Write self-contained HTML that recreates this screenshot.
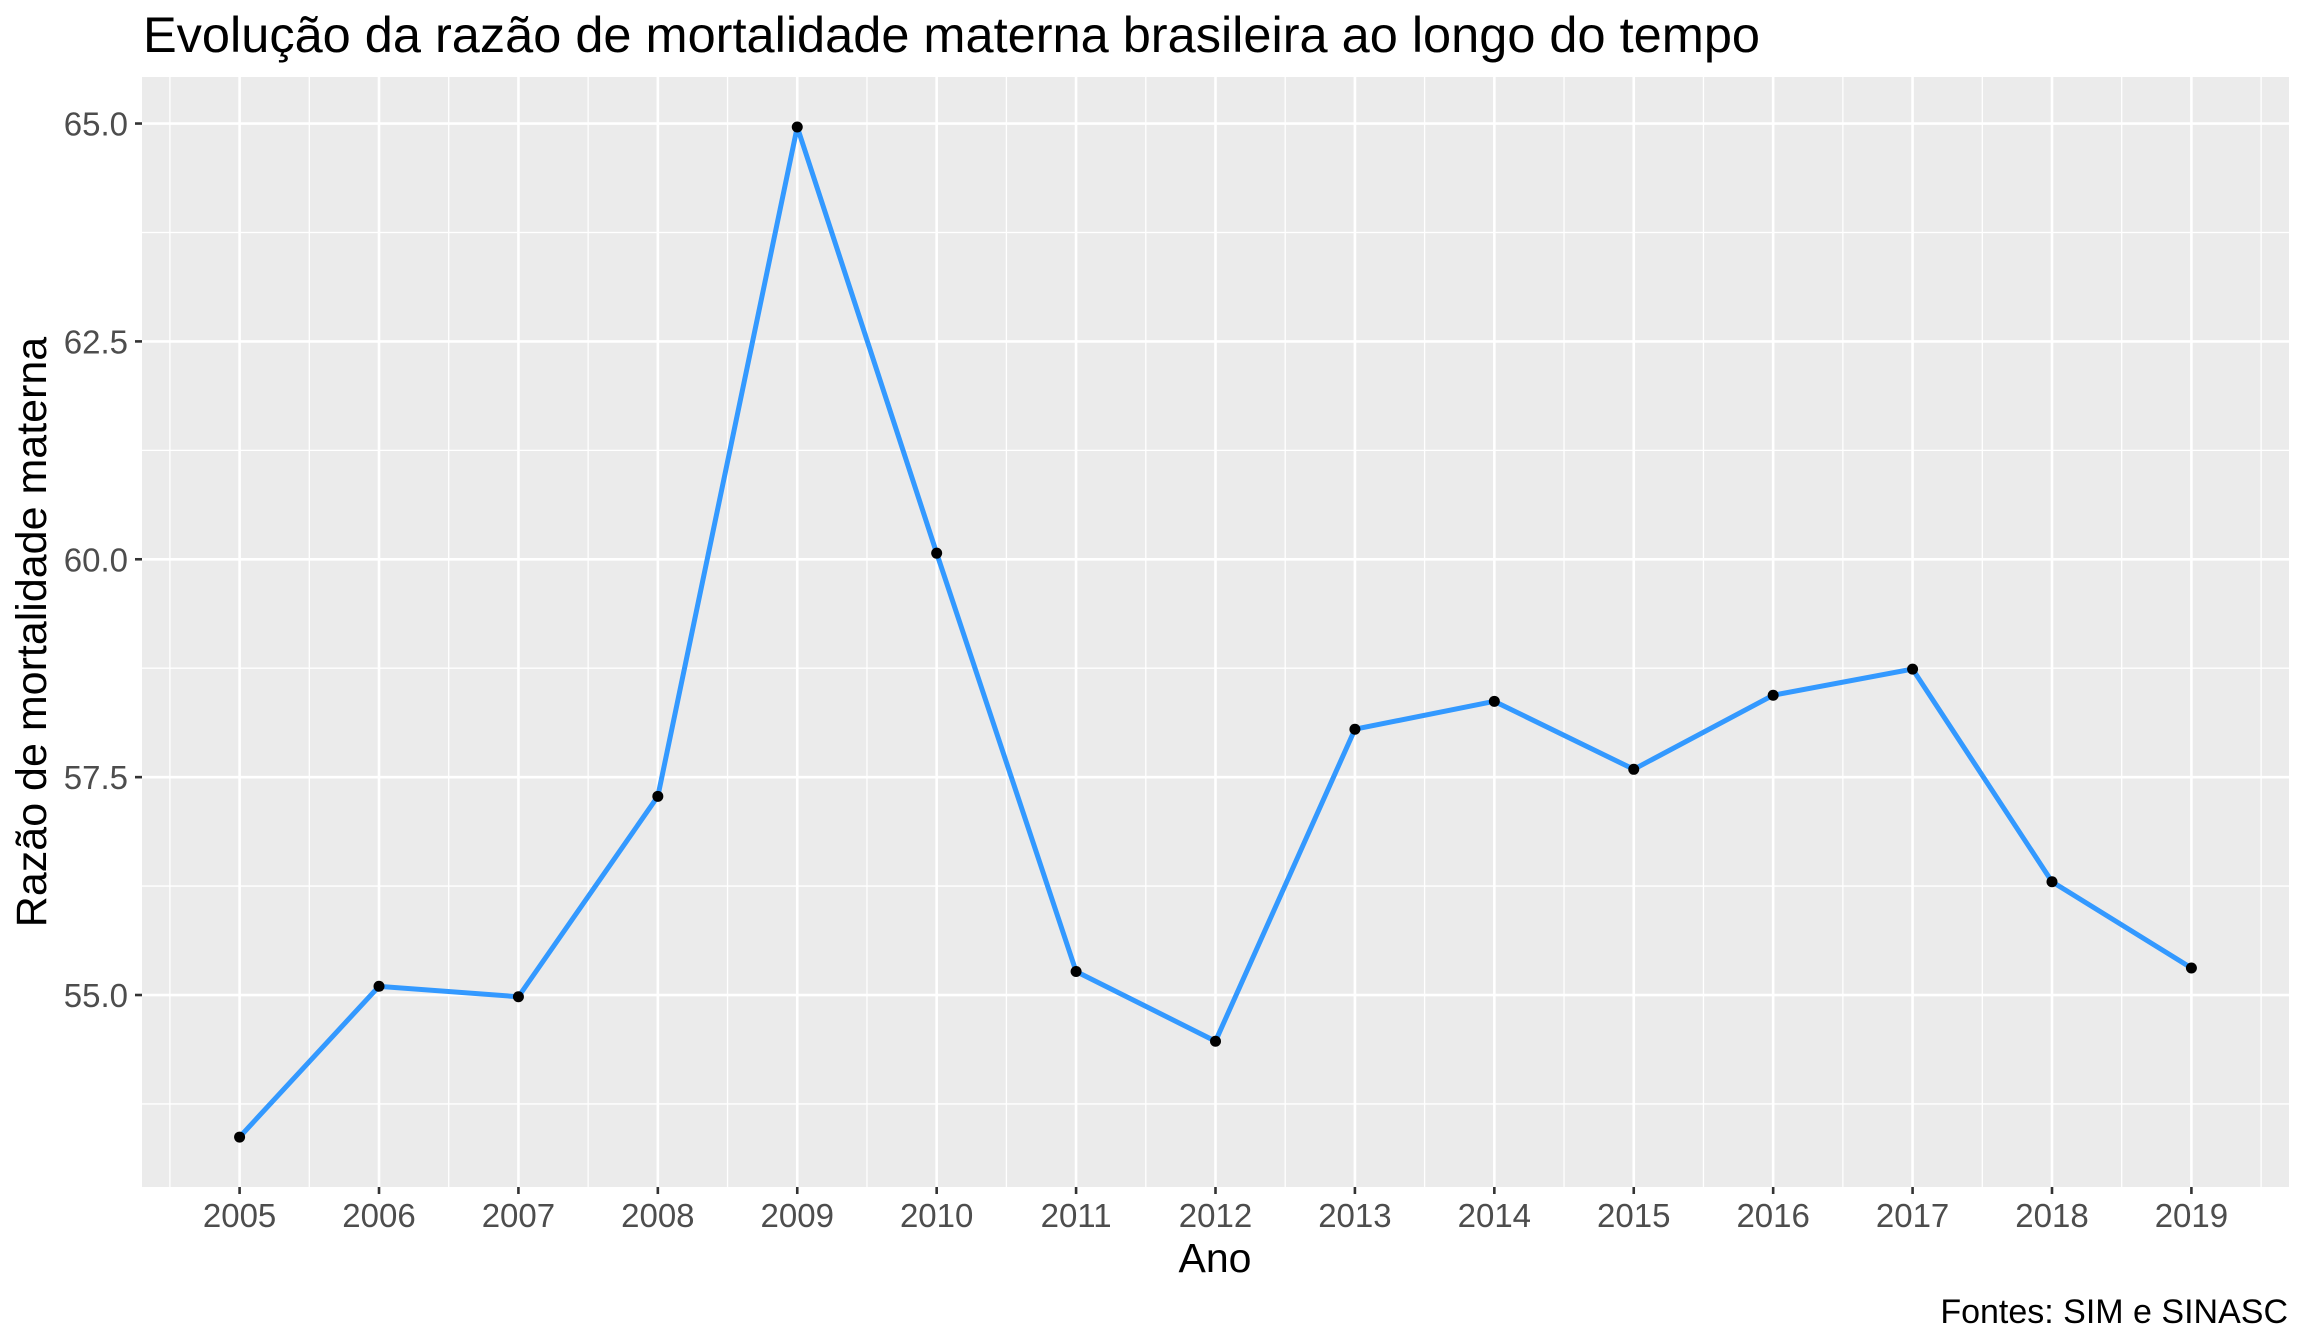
<!DOCTYPE html>
<html><head><meta charset="utf-8"><style>
body{margin:0;background:#fff}
svg{display:block;font-family:"Liberation Sans",Arial,sans-serif}
</style></head><body>
<svg id="chart" width="2304" height="1344" viewBox="0 0 2304 1344">
<rect x="142" y="77" width="2147" height="1110" fill="#EBEBEB"/>
<g id="grid"></g>
<g id="axes"></g>
<g id="series"></g>
<text x="143" y="52" font-size="50.5" fill="#000">Evolução da razão de mortalidade materna brasileira ao longo do tempo</text>
<text x="1215" y="1272" font-size="41" text-anchor="middle" fill="#000">Ano</text>
<text transform="translate(46,632) rotate(-90)" font-size="43" text-anchor="middle" fill="#000">Razão de mortalidade materna</text>
<text x="2288" y="1323" font-size="34" text-anchor="end" fill="#000">Fontes: SIM e SINASC</text>
</svg>
<script>
const years=[2005,2006,2007,2008,2009,2010,2011,2012,2013,2014,2015,2016,2017,2018,2019];
const rates=[53.37,55.10,54.98,57.28,64.96,60.07,55.27,54.47,58.05,58.37,57.59,58.44,58.74,56.30,55.31];
const yTicks=[55.0,57.5,60.0,62.5,65.0];
const yTickLabels=["55.0","57.5","60.0","62.5","65.0"];

const NS="http://www.w3.org/2000/svg";
const L=142,R=2289,T=77,B=1187;
const xMin=2004.3,xMax=2019.7;
const yMin=52.797,yMax=65.534;
function xs(v){return L+(v-xMin)/(xMax-xMin)*(R-L);}
function ys(v){return B-(v-yMin)/(yMax-yMin)*(B-T);}
function mk(tag,attrs,parent){const e=document.createElementNS(NS,tag);for(const k in attrs)e.setAttribute(k,attrs[k]);parent.appendChild(e);return e;}
const grid=document.getElementById('grid'),axes=document.getElementById('axes'),series=document.getElementById('series');
for(let i=0;i<years.length+1;i++){const v=years[0]-0.5+i;if(v<xMin||v>xMax)continue;
 const l=mk('line',{x1:xs(v),x2:xs(v),y1:T,y2:B,stroke:'#fff','stroke-width':1.3},grid);
 
 }
for(let i=0;i<yTicks.length+1;i++){const v=yTicks[0]-1.25+i*2.5;if(v<yMin||v>yMax)continue;
 const l=mk('line',{x1:L,x2:R,y1:ys(v),y2:ys(v),stroke:'#fff','stroke-width':1.3},grid);
 
 }
years.forEach(y=>{
 const l=mk('line',{x1:xs(y),x2:xs(y),y1:T,y2:B,stroke:'#fff','stroke-width':2.6},grid);
 
 
 const t=mk('line',{x1:xs(y),x2:xs(y),y1:B,y2:B+7,stroke:'#333','stroke-width':2.6},axes);
 
 
 const tx=mk('text',{x:xs(y),y:1227,'font-size':33,'text-anchor':'middle',fill:'#4D4D4D'},axes);
 tx.textContent=y;
 
 
});
yTicks.forEach((v,i)=>{
 const l=mk('line',{x1:L,x2:R,y1:ys(v),y2:ys(v),stroke:'#fff','stroke-width':2.6},grid);
 
 
 const t=mk('line',{x1:L-7,x2:L,y1:ys(v),y2:ys(v),stroke:'#333','stroke-width':2.6},axes);
 
 
 const tx=mk('text',{x:L-14,y:ys(v)+12,'font-size':33,'text-anchor':'end',fill:'#4D4D4D'},axes);
 tx.textContent=yTickLabels[i];
 
 
});
const pts=years.map((y,i)=>xs(y)+','+ys(rates[i])).join(' ');
const line=mk('polyline',{points:pts,fill:'none',stroke:'#3399FF','stroke-width':5,'stroke-linejoin':'round'},series);


years.forEach((y,i)=>{
 const c=mk('circle',{cx:xs(y),cy:ys(rates[i]),r:5.5,fill:'#000'},series);
 
 
});
</script>
</body></html>
